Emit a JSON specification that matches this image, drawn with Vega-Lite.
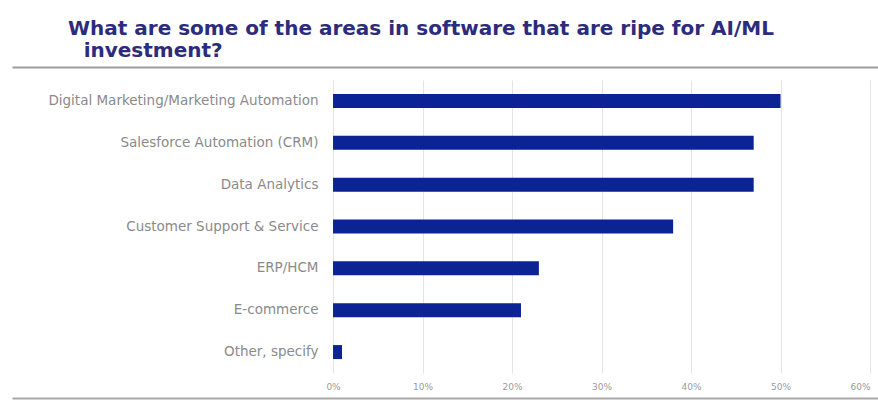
{
  "$schema": "https://vega.github.io/schema/vega-lite/v6.json",
  "description": "Areas in software ripe for AI/ML investment",
  "background": "white",
  "autosize": {"type": "none"},
  "padding": {"left": 12, "top": 80, "right": 0, "bottom": 29},
  "width": 866,
  "height": 293,
  "title": {
    "text": ["What are some of the areas in software that are ripe for AI/ML", "\u2800investment?"],
    "anchor": "start",
    "frame": "group",
    "dx": 56,
    "font": "DejaVu Sans",
    "fontSize": 20,
    "fontWeight": "bold",
    "color": "#2d2b7c",
    "lineHeight": 22,
    "offset": 6
  },
  "data": {
    "values": [
      {"area": "Digital Marketing/Marketing Automation", "share": 0.50},
      {"area": "Salesforce Automation (CRM)", "share": 0.47},
      {"area": "Data Analytics", "share": 0.47},
      {"area": "Customer Support & Service", "share": 0.38},
      {"area": "ERP/HCM", "share": 0.23},
      {"area": "E-commerce", "share": 0.21},
      {"area": "Other, specify", "share": 0.01}
    ]
  },
  "layer": [
    {
      "mark": {"type": "bar", "color": "#0b2393", "size": 14},
      "encoding": {
        "y": {
          "field": "area",
          "type": "nominal",
          "sort": null,
          "scale": {"paddingInner": 0.5, "paddingOuter": 0.25},
          "axis": {
            "title": null,
            "ticks": false,
            "domain": false,
            "offset": -321,
            "labelPadding": 15,
            "labelFont": "DejaVu Sans",
            "labelFontSize": 13.5,
            "labelColor": "#8a8a8a",
            "labelLimit": 400
          }
        },
        "x": {
          "field": "share",
          "type": "quantitative",
          "scale": {"domain": [-0.3587, 0.6089], "nice": false, "zero": false},
          "axis": {
            "title": null,
            "format": ".0%",
            "values": [0, 0.1, 0.2, 0.3, 0.4, 0.5, 0.6],
            "ticks": false,
            "domain": false,
            "labelPadding": 9,
            "labelAlign": {"expr": "datum.value >= 0.6 ? 'right' : 'center'"},
            "labelFont": "DejaVu Sans",
            "labelFontSize": 9,
            "labelColor": "#9a9a9a",
            "gridColor": "#e4e4e4"
          }
        }
      }
    },
    {
      "mark": {"type": "bar", "opacity": 0},
      "encoding": {
        "y": {"field": "area", "type": "nominal", "sort": null},
        "x": {
          "field": "share",
          "type": "quantitative",
          "axis": {
            "orient": "top",
            "title": null,
            "labels": false,
            "ticks": false,
            "grid": false,
            "domain": true,
            "domainColor": "#9c9c9c",
            "domainWidth": 2,
            "offset": 13
          }
        }
      }
    },
    {
      "mark": {"type": "bar", "opacity": 0},
      "encoding": {
        "y": {"field": "area", "type": "nominal", "sort": null},
        "x": {
          "field": "share",
          "type": "quantitative",
          "axis": {
            "orient": "bottom",
            "title": null,
            "labels": false,
            "ticks": false,
            "grid": false,
            "domain": true,
            "domainColor": "#a8a8a8",
            "domainWidth": 2,
            "offset": 25
          }
        }
      }
    }
  ],
  "resolve": {"axis": {"x": "independent"}},
  "config": {"view": {"stroke": null}}
}
